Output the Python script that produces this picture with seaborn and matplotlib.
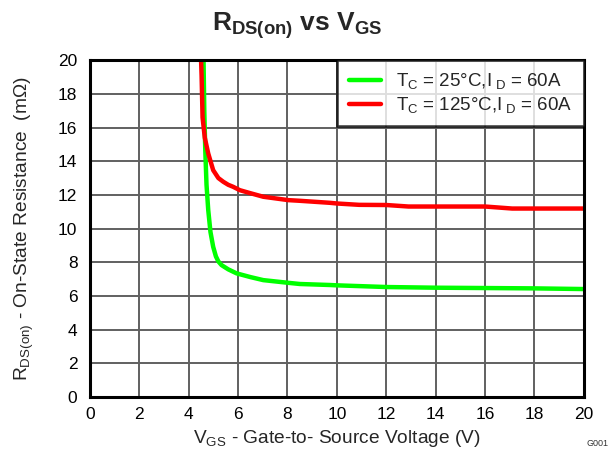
import matplotlib
matplotlib.use("Agg")
import matplotlib.pyplot as plt
import seaborn as sns
import pandas as pd

# Gate voltage (V) and on-state resistance (mOhm) for each case temperature
vgs_25c = [4.6, 4.63, 4.67, 4.72, 4.79, 4.88, 4.99, 5.1, 5.2, 5.33, 5.6, 5.94, 6.5, 7.02, 8.03, 8.5,
           9.72, 10, 12, 14, 16, 18, 20]
rds_25c = [20, 17, 14.66, 12.6, 11.1, 9.8, 8.92, 8.35, 8.05, 7.83, 7.58, 7.34, 7.12, 6.94, 6.78, 6.71,
           6.65, 6.63, 6.53, 6.49, 6.47, 6.45, 6.41]

vgs_125c = [4.5, 4.52, 4.56, 4.65, 4.79, 4.99, 5.2, 5.4, 5.6, 5.8, 6.07, 6.5, 7.02, 8.03, 8.5, 9.72,
            10, 10.9, 12, 12.9, 14, 16, 17.1, 18, 20]
rds_125c = [20, 19.1, 16.6, 15.4, 14.46, 13.47, 13.0, 12.78, 12.6, 12.48, 12.28, 12.1, 11.89, 11.69,
            11.65, 11.53, 11.49, 11.41, 11.4, 11.31, 11.31, 11.31, 11.19, 11.19, 11.19]

series_labels = [r"T$_\mathregular{C}$ = 25°C,I$_\mathregular{\ D}$ = 60A",
                 r"T$_\mathregular{C}$ = 125°C,I$_\mathregular{\ D}$ = 60A"]
series_colors = ["#00ff00", "#ff0000"]

x_ticks = list(range(0, 21, 2))
y_ticks = list(range(0, 21, 2))

sns.set_style("white")
plt.rcParams["font.family"] = ["Liberation Sans", "DejaVu Sans"]
plt.rcParams["mathtext.fontset"] = "custom"
plt.rcParams["mathtext.rm"] = "Liberation Sans"
plt.rcParams["mathtext.it"] = "Liberation Sans"
plt.rcParams["mathtext.bf"] = "Liberation Sans:bold"

df = pd.concat([
    pd.DataFrame({"vgs": vgs_25c, "rds": rds_25c, "series": series_labels[0]}),
    pd.DataFrame({"vgs": vgs_125c, "rds": rds_125c, "series": series_labels[1]}),
], ignore_index=True)

fig = plt.figure(figsize=(6.1, 4.49), dpi=100)
ax = fig.add_axes([0.1475, 0.1158, 0.8095, 0.7502])

sns.lineplot(data=df, x="vgs", y="rds", hue="series", palette=series_colors,
             hue_order=series_labels, sort=False, estimator=None, linewidth=3.2, ax=ax)

ax.set_xlim(0, 20)
ax.set_ylim(0, 20)
ax.set_xticks(x_ticks)
ax.set_yticks(y_ticks)
ax.grid(True, color="#606060", linewidth=1.4)
ax.set_axisbelow(True)
for s in ax.spines.values():
    s.set_color("black")
    s.set_linewidth(2.2)
ax.tick_params(axis="both", direction="in", length=5, width=1, color="#555555",
               labelsize=12.5, labelcolor="black")
ax.tick_params(axis="x", pad=7)
ax.tick_params(axis="y", pad=9)

ax.set_xlabel(r"V$_\mathregular{GS}$ - Gate-to- Source Voltage (V)", fontsize=13.8, labelpad=4.5)
ax.set_ylabel(r"R$_\mathregular{DS(on)}$ - On-State Resistance  (m$\Omega$)", fontsize=13.8,
              labelpad=16)
fig.text(297 / 610, 1 - 30.7 / 449, r"$\mathbf{R_{DS(on)}}$ vs $\mathbf{V_{GS}}$",
         fontsize=19, fontweight="bold", ha="center", va="baseline")

leg = ax.legend(loc="upper right", fontsize=13.5, frameon=True, fancybox=False,
                borderaxespad=0, handlelength=1.75, labelspacing=0.2, borderpad=0.6,
                handletextpad=0.8)
leg.get_frame().set_edgecolor("black")
leg.get_frame().set_linewidth(1.8)
for line in leg.get_lines():
    line.set_linewidth(3.2)

fig.text(0.998, 0.002, "G001", fontsize=6.5, ha="right", va="bottom", color="#333333")

fig.savefig("out.png", dpi=100)
